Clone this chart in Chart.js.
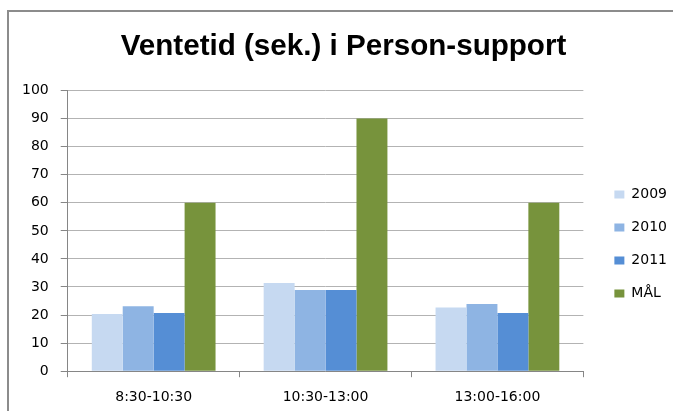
<!DOCTYPE html>
<html>
<head>
<meta charset="utf-8">
<script src="https://cdn.jsdelivr.net/npm/chart.js@4/dist/chart.umd.min.js"></script>
<style>
  body { margin: 0; background: #fff; overflow: hidden; }
  #frame { position: absolute; left: 7px; top: 10px; width: 720px; height: 440px; border: 2px solid #8c8c8c; }
  #wrap { position: absolute; left: 0; top: 0; width: 692px; height: 423px; }
</style>
</head>
<body>
<div id="frame"></div>
<div id="wrap"><canvas id="myChart" width="692" height="423"></canvas></div>
<script>
const categories = ["8:30-10:30", "10:30-13:00", "13:00-16:00"];
const seriesNames = ["2009", "2010", "2011", "MÅL"];
const values2009 = [20.4, 31.4, 22.7];
const values2010 = [23.1, 28.9, 23.9];
const values2011 = [20.7, 28.9, 20.7];
const valuesMal = [60, 90, 60];
const seriesColors = ["#C6D9F1", "#8EB4E3", "#558ED5", "#77933C"];
const yTicks = [0, 10, 20, 30, 40, 50, 60, 70, 80, 90, 100];

const allValues = [values2009, values2010, values2011, valuesMal];

new Chart("myChart", {
    type: "bar",
    data: {
        labels: categories,
        datasets: seriesNames.map((name, i) => ({
            label: name,
            backgroundColor: seriesColors[i],
            data: allValues[i],
            barPercentage: 1,
            categoryPercentage: 0.72
        }))
    },
    options: {
        responsive: false,
        animation: false,
        layout: { padding: { top: 12, left: 10, right: 15, bottom: 5 } },
        plugins: {
            title: {
                display: true,
                text: "Ventetid (sek.) i Person-support",
                color: "#000",
                font: { family: "Liberation Sans", size: 29.6, weight: "bold" },
                padding: { top: 17, bottom: 26 }
            },
            legend: {
                position: "right",
                title: { display: true, text: " ", font: { size: 10 }, padding: { top: 46, bottom: 0 } },
                labels: {
                    boxWidth: 10,
                    boxHeight: 8,
                    padding: 19,
                    color: "#000",
                    font: { family: "DejaVu Sans", size: 14 }
                }
            },
            tooltip: { enabled: false }
        },
        scales: {
            x: {
                grid: { display: true, drawOnChartArea: false, drawTicks: true, tickLength: 6, color: "#868686" },
                border: { color: "#868686" },
                ticks: { color: "#000", padding: 12, maxRotation: 0, font: { family: "DejaVu Sans", size: 14 } }
            },
            y: {
                min: 0,
                max: 100,
                afterBuildTicks: scale => { scale.ticks = yTicks.map(v => ({ value: v })); },
                grid: { color: "#b3b3b3", tickLength: 7, tickColor: "#868686" },
                border: { color: "#868686" },
                ticks: { color: "#000", padding: 12, font: { family: "DejaVu Sans", size: 14 } }
            },
            spacer: {
                type: "linear",
                axis: "y",
                position: "right",
                grid: { display: false },
                border: { display: false },
                ticks: { display: false },
                afterFit: scale => { scale.width = 12; }
            }
        }
    }
});
</script>
</body>
</html>
